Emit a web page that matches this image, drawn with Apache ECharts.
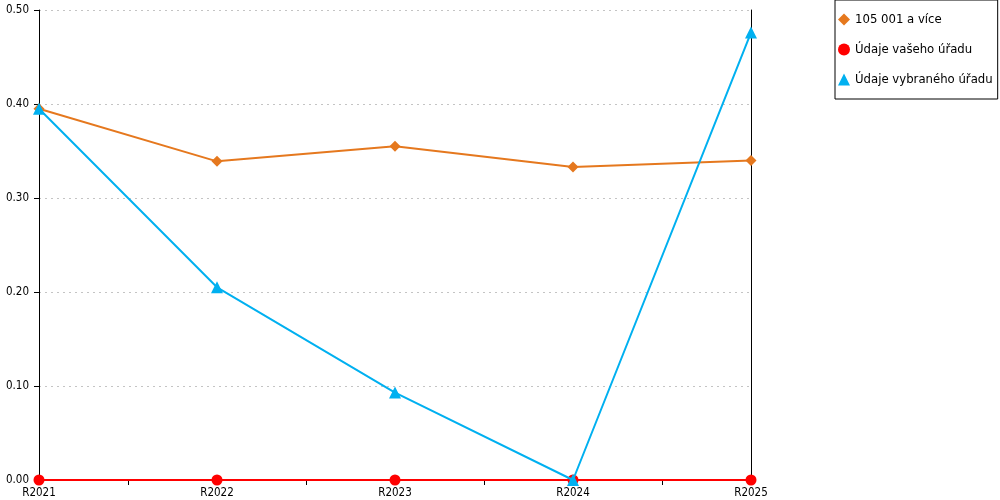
<!DOCTYPE html>
<html><head><meta charset="utf-8">
<script src="https://cdn.jsdelivr.net/npm/echarts@6/dist/echarts.min.js"></script>
<style>html,body{margin:0;padding:0;background:#fff}#c{width:1000px;height:500px}</style>
</head><body><div id="c"></div>
<script>
const categories = ['R2021','R2022','R2023','R2024','R2025'];
const seriesNames = ['105 001 a více','Údaje vašeho úřadu','Údaje vybraného úřadu'];
const groupValues = [0.395, 0.339, 0.355, 0.333, 0.340];
const yourOffice = [0, 0, 0, 0, 0];
const selectedOffice = [0.395, 0.205, 0.093, 0, 0.476];

const font = 'DejaVu Sans Condensed, DejaVu Sans';
const chart = echarts.init(document.getElementById('c'));
const halfCats = [];
for (let i = 0; i < categories.length * 2 - 1; i++) halfCats.push(String(i));
chart.setOption({
  animation: false,
  textStyle: { fontFamily: font },
  grid: { left: 39, right: 249, top: 10, bottom: 20, containLabel: false },
  legend: {
    orient: 'vertical', left: 835, top: 0,
    padding: [13, 5, 13, 3], itemGap: 17, itemWidth: 12, itemHeight: 12,
    borderColor: '#000', borderWidth: 1,
    textStyle: { fontFamily: font, fontSize: 13, color: '#000' },
    data: [
      { name: seriesNames[0], icon: 'diamond' },
      { name: seriesNames[1], icon: 'circle' },
      { name: seriesNames[2], icon: 'triangle' }
    ]
  },
  xAxis: [
    {
      type: 'category', data: categories, boundaryGap: false,
      axisLine: { show: true, lineStyle: { color: '#000', width: 1 } },
      axisTick: { show: false },
      axisLabel: { color: '#000', fontSize: 11.5, fontFamily: font, margin: 7 },
      splitLine: { show: false }
    },
    {
      type: 'category', data: halfCats, boundaryGap: false, position: 'bottom',
      axisLine: { show: false },
      axisTick: { show: true, length: 5, interval: (i) => i % 2 === 1, lineStyle: { color: '#000' } },
      axisLabel: { show: false }, splitLine: { show: false }
    }
  ],
  yAxis: [
    {
      type: 'value', min: 0, max: 0.5, interval: 0.1,
      axisLine: { show: true, lineStyle: { color: '#000', width: 1 } },
      axisTick: { show: true, length: 5, lineStyle: { color: '#000' } },
      axisLabel: { color: '#000', fontSize: 11.5, fontFamily: font, margin: 10,
        formatter: v => v.toFixed(2) },
      splitLine: { show: true, lineStyle: { color: '#c4c4c4', type: [2, 4], width: 1 } }
    },
    {
      type: 'value', min: 0, max: 0.5, interval: 0.1, position: 'right',
      axisLine: { show: true, lineStyle: { color: '#000', width: 1 } },
      axisTick: { show: false }, axisLabel: { show: false }, splitLine: { show: false }
    }
  ],
  series: [
    { name: seriesNames[0], type: 'line', data: groupValues, symbol: 'diamond', symbolSize: 11,
      itemStyle: { color: '#E5781E' }, lineStyle: { color: '#E5781E', width: 2 }, z: 3 },
    { name: seriesNames[1], type: 'line', data: yourOffice, symbol: 'circle', symbolSize: 11,
      itemStyle: { color: '#FF0000' }, lineStyle: { color: '#FF0000', width: 2 }, z: 2 },
    { name: seriesNames[2], type: 'line', data: selectedOffice, symbol: 'triangle', symbolSize: 12,
      itemStyle: { color: '#00B0F0' }, lineStyle: { color: '#00B0F0', width: 2 }, z: 4 }
  ]
});
</script></body></html>
